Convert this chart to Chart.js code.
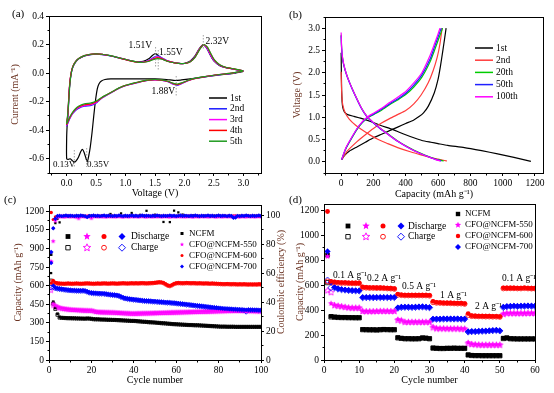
<!DOCTYPE html>
<html>
<head>
<meta charset="utf-8">
<script src="https://cdn.jsdelivr.net/npm/chart.js"></script>
<style>
html, body { margin: 0; padding: 0; background: #fff; }
#wrap { position: relative; width: 554px; height: 393px; overflow: hidden; }
#wrap canvas { position: absolute; left: 0; top: 0; }
</style>
</head>
<body>
<div id="wrap">
    <canvas id="cvChart" width="554" height="393"></canvas>
    <canvas id="gcdChart" width="554" height="393"></canvas>
    <canvas id="cycleChart" width="554" height="393"></canvas>
    <canvas id="rateChart" width="554" height="393"></canvas>
</div>
<script>
// ---------------- (a) CV curves, [voltage, current] ----------------
var cvCycle1 = [[3.0,0.012],[2.85,0.0],[2.7,-0.008],[2.5,-0.018],[2.3,-0.03],[2.1,-0.04],[1.95,-0.048],[1.85,-0.052],[1.7,-0.045],[1.5,-0.04],[1.3,-0.04],[1.1,-0.04],[0.9,-0.04],[0.75,-0.041],[0.65,-0.045],[0.59,-0.055],[0.55,-0.075],[0.52,-0.11],[0.49,-0.19],[0.46,-0.3],[0.43,-0.42],[0.4,-0.52],[0.37,-0.59],[0.35,-0.62],[0.33,-0.6],[0.3,-0.56],[0.27,-0.535],[0.24,-0.55],[0.2,-0.59],[0.16,-0.615],[0.13,-0.625],[0.1,-0.615],[0.06,-0.6],[0.03,-0.605],[0.0,-0.6],[0.0,-0.45],[0.01,-0.35],[0.025,-0.25],[0.04,-0.14],[0.06,-0.05],[0.08,0.01],[0.11,0.05],[0.15,0.08],[0.2,0.1],[0.3,0.12],[0.4,0.13],[0.5,0.135],[0.6,0.131],[0.7,0.125],[0.8,0.116],[0.9,0.106],[1.0,0.096],[1.1,0.086],[1.2,0.079],[1.3,0.082],[1.4,0.102],[1.46,0.125],[1.51,0.136],[1.56,0.122],[1.62,0.1],[1.7,0.085],[1.8,0.075],[1.9,0.068],[2.0,0.069],[2.1,0.085],[2.18,0.12],[2.25,0.17],[2.32,0.2],[2.38,0.175],[2.44,0.125],[2.5,0.085],[2.6,0.052],[2.7,0.038],[2.85,0.026],[3.0,0.014]];
var cvCycle2 = [[3.0,0.014],[2.85,0.002],[2.7,-0.006],[2.5,-0.016],[2.3,-0.028],[2.15,-0.04],[2.05,-0.055],[1.95,-0.075],[1.88,-0.086],[1.8,-0.076],[1.72,-0.06],[1.6,-0.05],[1.5,-0.047],[1.4,-0.05],[1.3,-0.057],[1.2,-0.067],[1.1,-0.077],[1.0,-0.088],[0.9,-0.105],[0.8,-0.127],[0.7,-0.15],[0.6,-0.175],[0.54,-0.195],[0.5,-0.21],[0.45,-0.222],[0.4,-0.228],[0.3,-0.232],[0.2,-0.247],[0.15,-0.262],[0.1,-0.285],[0.05,-0.322],[0.0,-0.37],[0.02,-0.31],[0.035,-0.2],[0.05,-0.09],[0.07,-0.02],[0.1,0.035],[0.14,0.07],[0.2,0.098],[0.3,0.121],[0.4,0.13],[0.5,0.133],[0.6,0.13],[0.7,0.124],[0.8,0.115],[0.9,0.105],[1.0,0.095],[1.1,0.085],[1.2,0.077],[1.3,0.078],[1.4,0.09],[1.48,0.11],[1.55,0.12],[1.62,0.106],[1.7,0.088],[1.8,0.076],[1.9,0.068],[2.0,0.067],[2.1,0.082],[2.18,0.115],[2.25,0.165],[2.32,0.195],[2.38,0.175],[2.44,0.128],[2.5,0.088],[2.6,0.054],[2.7,0.039],[2.85,0.027],[3.0,0.015]];
var cvCycle3 = [[3.0,0.014],[2.85,0.002],[2.7,-0.006],[2.5,-0.016],[2.3,-0.029],[2.15,-0.041],[2.05,-0.055],[1.95,-0.073],[1.88,-0.083],[1.8,-0.074],[1.72,-0.059],[1.6,-0.05],[1.5,-0.047],[1.4,-0.05],[1.3,-0.057],[1.2,-0.066],[1.1,-0.076],[1.0,-0.087],[0.9,-0.104],[0.8,-0.126],[0.7,-0.149],[0.6,-0.173],[0.54,-0.192],[0.5,-0.206],[0.45,-0.217],[0.4,-0.223],[0.3,-0.228],[0.2,-0.243],[0.15,-0.258],[0.1,-0.282],[0.05,-0.318],[0.0,-0.365],[0.02,-0.3],[0.035,-0.19],[0.05,-0.085],[0.07,-0.015],[0.1,0.038],[0.14,0.072],[0.2,0.1],[0.3,0.122],[0.4,0.131],[0.5,0.134],[0.6,0.131],[0.7,0.125],[0.8,0.116],[0.9,0.105],[1.0,0.095],[1.1,0.085],[1.2,0.077],[1.3,0.077],[1.4,0.088],[1.48,0.106],[1.55,0.115],[1.62,0.103],[1.7,0.087],[1.8,0.075],[1.9,0.068],[2.0,0.067],[2.1,0.081],[2.18,0.114],[2.25,0.166],[2.32,0.197],[2.38,0.178],[2.44,0.13],[2.5,0.089],[2.6,0.055],[2.7,0.039],[2.85,0.027],[3.0,0.015]];
var cvCycle4 = [[3.0,0.014],[2.85,0.003],[2.7,-0.005],[2.5,-0.015],[2.3,-0.028],[2.15,-0.04],[2.05,-0.054],[1.95,-0.071],[1.88,-0.08],[1.8,-0.072],[1.72,-0.058],[1.6,-0.049],[1.5,-0.046],[1.4,-0.049],[1.3,-0.056],[1.2,-0.065],[1.1,-0.075],[1.0,-0.086],[0.9,-0.103],[0.8,-0.125],[0.7,-0.148],[0.6,-0.171],[0.54,-0.189],[0.5,-0.201],[0.45,-0.211],[0.4,-0.217],[0.3,-0.222],[0.2,-0.238],[0.15,-0.254],[0.1,-0.278],[0.05,-0.314],[0.0,-0.36],[0.02,-0.29],[0.035,-0.18],[0.05,-0.08],[0.07,-0.012],[0.1,0.04],[0.14,0.073],[0.2,0.1],[0.3,0.122],[0.4,0.131],[0.5,0.134],[0.6,0.131],[0.7,0.125],[0.8,0.116],[0.9,0.105],[1.0,0.094],[1.1,0.084],[1.2,0.077],[1.3,0.076],[1.4,0.085],[1.48,0.1],[1.55,0.108],[1.62,0.1],[1.7,0.086],[1.8,0.075],[1.9,0.068],[2.0,0.067],[2.1,0.08],[2.18,0.112],[2.26,0.168],[2.33,0.199],[2.39,0.18],[2.45,0.132],[2.51,0.09],[2.6,0.057],[2.7,0.04],[2.85,0.028],[3.0,0.016]];
var cvCycle5 = [[3.0,0.015],[2.85,0.003],[2.7,-0.005],[2.5,-0.015],[2.3,-0.027],[2.15,-0.039],[2.05,-0.052],[1.95,-0.069],[1.88,-0.077],[1.8,-0.07],[1.72,-0.057],[1.6,-0.048],[1.5,-0.045],[1.4,-0.048],[1.3,-0.055],[1.2,-0.064],[1.1,-0.074],[1.0,-0.085],[0.9,-0.102],[0.8,-0.124],[0.7,-0.147],[0.6,-0.169],[0.54,-0.186],[0.5,-0.196],[0.45,-0.205],[0.4,-0.21],[0.3,-0.216],[0.2,-0.233],[0.15,-0.25],[0.1,-0.275],[0.05,-0.31],[0.0,-0.355],[0.02,-0.28],[0.04,-0.17],[0.055,-0.075],[0.075,-0.01],[0.1,0.038],[0.14,0.072],[0.2,0.1],[0.3,0.122],[0.4,0.132],[0.5,0.135],[0.6,0.132],[0.7,0.126],[0.8,0.117],[0.9,0.106],[1.0,0.095],[1.1,0.085],[1.2,0.077],[1.3,0.076],[1.4,0.083],[1.48,0.096],[1.55,0.102],[1.62,0.097],[1.7,0.085],[1.8,0.074],[1.9,0.068],[2.0,0.067],[2.1,0.079],[2.18,0.11],[2.26,0.166],[2.33,0.2],[2.39,0.182],[2.45,0.135],[2.51,0.092],[2.6,0.058],[2.7,0.041],[2.85,0.029],[3.0,0.016]];
var cvLabels = ['1st', '2nd', '3rd', '4th', '5th'];
var cvVoltTicks = [0, 0.5, 1, 1.5, 2, 2.5, 3];
var cvCurrentTicks = [-0.6, -0.4, -0.2, 0, 0.2, 0.4];

// ---------------- (b) galvanostatic profiles, [capacity, voltage] ----------------
var gcd1Dis = [[0,2.45],[1,2.1],[3,1.6],[6,1.35],[10,1.22],[20,1.12],[40,1.06],[80,1.02],[120,0.98],[186,0.9],[250,0.81],[300,0.75],[350,0.68],[391,0.62],[450,0.54],[500,0.48],[556,0.44],[600,0.41],[660,0.37],[763,0.32],[870,0.25],[969,0.18],[1070,0.1],[1175,0.01]];
var gcd1Cha = [[3,0.05],[20,0.14],[50,0.24],[100,0.34],[150,0.44],[200,0.54],[250,0.62],[300,0.7],[350,0.78],[400,0.86],[450,0.94],[480,1.01],[510,1.1],[540,1.25],[577,1.55],[600,1.85],[615,2.15],[630,2.5],[642,2.8],[650,3.0]];
var gcd2Dis = [[0,2.02],[2,1.7],[5,1.45],[10,1.28],[25,1.1],[50,0.96],[90,0.82],[124,0.73],[180,0.6],[230,0.5],[289,0.41],[350,0.32],[433,0.22],[500,0.15],[560,0.09],[600,0.06],[640,0.03],[655,0.02]];
var gcd2Cha = [[3,0.05],[40,0.25],[100,0.46],[150,0.61],[200,0.75],[250,0.87],[300,0.97],[350,1.06],[400,1.15],[450,1.3],[495,1.5],[540,1.78],[570,2.05],[595,2.35],[612,2.65],[625,3.0]];
var gcd20Dis = [[0,2.85],[3,2.55],[8,2.35],[15,2.2],[30,2.0],[50,1.8],[80,1.55],[124,1.22],[160,1.02],[200,0.88],[240,0.76],[289,0.63],[350,0.47],[400,0.36],[452,0.26],[500,0.18],[550,0.11],[598,0.05],[635,0.02]];
var gcd20Cha = [[3,0.05],[30,0.3],[70,0.56],[110,0.79],[160,0.98],[200,1.06],[250,1.16],[300,1.28],[350,1.39],[400,1.51],[450,1.68],[500,1.9],[550,2.24],[580,2.52],[608,2.8],[628,3.0]];
var gcd50Dis = [[0,2.83],[3,2.53],[8,2.33],[15,2.19],[30,1.99],[50,1.79],[80,1.54],[124,1.21],[160,1.01],[200,0.87],[240,0.75],[289,0.62],[350,0.46],[400,0.35],[452,0.25],[500,0.17],[550,0.1],[590,0.05],[620,0.02]];
var gcd50Cha = [[3,0.05],[30,0.31],[70,0.57],[110,0.8],[160,0.99],[200,1.07],[250,1.18],[300,1.3],[350,1.41],[400,1.54],[450,1.72],[500,1.95],[550,2.3],[578,2.58],[602,2.82],[620,3.0]];
var gcd100Dis = [[0,2.9],[3,2.57],[8,2.36],[15,2.21],[30,2.0],[50,1.8],[80,1.55],[124,1.22],[160,1.02],[200,0.88],[240,0.76],[289,0.62],[350,0.46],[400,0.35],[452,0.25],[500,0.17],[550,0.1],[585,0.05],[615,0.02]];
var gcd100Cha = [[3,0.05],[30,0.32],[70,0.58],[110,0.81],[160,1.0],[200,1.09],[250,1.2],[300,1.33],[350,1.45],[400,1.58],[450,1.77],[500,2.0],[545,2.34],[575,2.62],[598,2.85],[612,3.0]];
var gcdLabels = ['1st', '2nd', '20th', '50th', '100th'];
var gcdCapTicks = [0, 200, 400, 600, 800, 1000, 1200];
var gcdVoltTicks = [0, 0.5, 1, 1.5, 2, 2.5, 3];

// ---------------- (c) cycling performance, cycles 1..100 ----------------
var ncfmDis = [850,470,420,372,345,342,340,339,338,338, 337,337,336,336,335,335,334,336,335,333, 330,329,329,328,327,327,326,325,325,324, 324,323,322,321,320,319,318,317,316,316, 315,313,312,310,309,308,306,305,304,303, 301,300,298,297,296,294,293,291,290,289, 288,287,286,285,284,283,283,282,281,281, 280,279,278,277,276,275,274,273,272,271, 270,270,270,269,269,269,269,268,268,268, 268,268,268,268,268,268,268,268,268,268];
var ncfmCha = [640,455,412,365,342,340,339,338,337,337, 336,336,335,335,334,334,333,335,334,332, 329,328,328,327,326,326,325,324,324,323, 323,322,321,320,319,318,317,316,315,315, 314,312,311,309,308,307,305,304,303,302, 300,299,297,296,295,293,292,290,289,288, 287,286,285,284,283,282,282,281,280,280, 279,278,277,276,275,274,273,272,271,270, 269,269,269,268,268,268,268,267,267,267, 267,267,267,267,267,267,267,267,267,267];
var cfo550Dis = [790,455,440,430,422,418,415,412,410,408, 406,405,404,403,402,401,400,400,399,399, 395,390,388,387,386,386,385,385,384,384, 383,382,381,380,379,378,377,376,375,375, 375,376,376,377,377,378,378,379,379,380, 380,381,381,382,382,383,383,384,384,385, 385,386,386,387,387,388,388,389,389,390, 390,391,391,392,392,393,393,394,394,395, 395,396,396,397,397,397,398,398,398,398, 398,397,397,396,396,396,395,395,395,395];
var cfo550Cha = [560,440,432,424,418,414,411,409,407,405, 404,403,402,401,400,399,398,398,397,397, 393,388,386,385,384,384,383,383,382,382, 381,380,379,378,377,376,375,374,373,373, 373,374,374,375,375,376,376,377,377,378, 378,379,379,380,380,381,381,382,382,383, 383,384,384,385,385,386,386,387,387,388, 388,389,389,390,390,391,391,392,392,393, 393,394,394,395,395,395,396,396,396,396, 396,395,395,394,394,394,393,393,393,393];
var cfo600Dis = [1190,640,625,620,618,617,616,617,618,617, 616,617,618,617,616,617,618,619,618,617, 616,617,618,617,618,619,618,617,618,619, 618,617,618,619,620,619,618,619,620,619, 620,619,620,621,620,619,620,621,622,624, 626,628,627,622,612,602,598,605,615,620, 622,621,620,621,622,621,620,621,620,619, 620,619,618,619,618,617,618,617,616,615, 614,613,613,614,613,612,613,612,611,612, 611,612,611,610,611,610,611,610,612,611];
var cfo600Cha = [630,628,620,617,615,615,614,615,616,615, 614,615,616,615,614,615,616,617,616,615, 614,615,616,615,616,617,616,615,616,617, 616,615,616,617,618,617,616,617,618,617, 618,617,618,619,618,617,618,619,620,622, 624,626,625,620,610,600,596,603,613,618, 620,619,618,619,620,619,618,619,618,617, 618,617,616,617,616,615,616,615,614,613, 612,611,611,612,611,610,611,610,609,610, 609,610,609,608,609,608,609,608,610,609];
var cfo700Dis = [870,600,582,578,575,572,570,567,565,563, 562,561,560,560,559,560,558,552,545,542, 540,539,538,537,536,535,533,530,528,526, 524,522,518,510,503,498,495,492,490,488, 486,484,482,480,478,477,476,475,473,472, 470,469,468,466,465,464,463,461,460,458, 456,454,452,450,448,446,444,442,440,438, 436,434,432,430,428,426,424,422,420,418, 416,414,413,412,411,410,409,408,407,406, 405,405,404,404,403,403,402,402,401,401];
var cfo700Cha = [585,588,578,575,572,570,567,565,563,561, 560,559,558,558,557,558,556,550,543,540, 538,537,536,535,534,533,531,528,526,524, 522,520,516,508,501,496,493,490,488,486, 484,482,480,478,476,475,474,473,471,470, 468,467,466,464,463,462,461,459,458,456, 454,452,450,448,446,444,442,440,438,436, 434,432,430,428,426,424,422,420,418,416, 414,412,411,410,409,408,407,406,405,404, 403,400,390,402,401,401,400,400,399,399];
var ceNcfm = [60,91,94.5,97.5,95,99.2,99.5,99.3,99.6,99.4, 99.5,99.3,99.7,99.4,99.2,99.6,99.5,99.3,99.8,99.4, 99.5,99.3,99.6,99.4,99.7,99.5,99.3,99.6,100.8,99.5, 99.6,99.3,99.5,101.2,99.4,99.6,99.3,99.5,101.5,99.4, 99.6,99.5,100.2,99.4,99.7,103,99.5,99.3,99.8,100.3, 99.4,99.7,99.5,95.3,99.6,99.3,95.2,99.4,103.1,99.5, 101.9,99.4,100.4,99.7,99.3,99.6,99.5,99.8,99.4,99.6, 99.5,99.3,99.7,99.4,99.6,99.5,99.3,99.7,99.4,99.6, 99.5,99.3,99.6,99.4,99.7,99.5,99.3,99.6,99.4,99.5, 99.6,99.3,99.5,99.7,99.4,99.6,99.5,99.3,99.6,99.5];
var ce550 = [68,82,96,98.5,99,99.2,98.8,99.1,99.3,98.9, 99.2,99,98.6,97.8,99.1,99.3,98.9,99.2,99,97.9, 99.1,99.3,98.9,99.2,99,99.1,98.8,99.3,99,99.2, 98.9,99.1,99.3,99,98.8,99.2,99.1,98.9,99.3,99, 99.2,98.9,99.1,99.3,99,98.8,99.2,99.1,98.9,99.3, 99,99.2,98.9,99.1,99.3,99,98.8,99.2,99.1,98.9, 99.3,99,99.2,98.9,99.1,99.3,99,98.8,99.2,99.1, 98.9,99.3,99,99.2,98.9,99.1,99.3,99,98.8,99.2, 99.1,98.9,99.3,99,99.2,98.9,99.1,99.3,99,98.8, 99.2,99.1,98.9,99.3,99,99.2,98.9,99.1,99.3,99];
var ce600 = [53,97,98.8,99.2,99.4,99.1,99.3,99.5,99.2,99.4, 99.3,99.1,99.4,99.2,99.5,99.3,99.1,99.4,99.2,99.3, 99.5,99.2,99.4,99.1,99.3,99.5,99.2,99.4,99.3,99.1, 99.4,99.2,99.5,99.3,99.1,99.4,99.2,99.3,99.5,99.2, 99.4,99.1,99.3,99.5,99.2,99.4,99.3,99.1,99.4,99.2, 99.5,99.3,99.1,99.4,99.2,99.3,99.5,99.2,99.4,99.1, 99.3,99.5,99.2,99.4,99.3,99.1,99.4,99.2,99.5,99.3, 99.1,99.4,99.2,99.3,99.5,99.2,99.4,99.1,99.3,99.5, 99.2,99.4,99.3,99.1,99.4,99.2,99.5,99.3,99.1,99.4, 99.2,99.3,99.5,99.2,99.4,99.1,99.3,99.5,99.2,99.4];
var ce700 = [67,91,97.5,99.4,99.6,99.3,99.5,99.7,99.4,99.6, 99.5,99.3,99.6,99.4,99.7,99.5,99.3,98.6,99.4,99.5, 99.7,99.4,99.6,99.3,99.5,99.7,99.4,99.6,99.5,99.3, 99.6,99.4,99.7,99.5,99.3,99.6,99.4,99.5,99.7,99.4, 99.6,99.3,99.5,99.7,99.4,99.6,99.5,99.3,99.6,99.4, 99.7,99.5,99.3,99.6,99.4,99.5,99.7,99.4,99.6,99.3, 99.5,99.7,99.4,99.6,99.5,99.3,99.6,99.4,99.7,99.5, 99.3,99.6,99.4,99.5,99.7,99.4,99.6,99.3,99.5,99.7, 99.4,99.6,99.5,99.3,99.6,99.4,98.2,98.4,99.5,99.3, 99.6,99.4,99.7,99.5,99.3,99.6,99.4,99.5,99.7,99.4];
var cycleTicksC = [0, 20, 40, 60, 80, 100];
var capTicksC = [0, 150, 300, 450, 600, 750, 900, 1050, 1200];
var ceTicks = [0, 20, 40, 60, 80, 100];

// ---------------- (d) rate capability, cycles 1..60 ----------------
var ncfmDisD = [840,350,345,343,342,342,341,340,340,340, 245,244,243,243,242,244,246,245,244,244, 180,175,172,172,171,171,172,178,176,172, 97,95,94,94,95,95,96,95,95,95, 42,38,37,37,36,36,36,36,36,36, 175,178,172,171,170,170,170,170,170,170];
var ncfmChaD = [620,345,343,341,340,340,339,339,338,338, 243,242,241,241,240,242,244,243,242,242, 177,173,170,170,169,169,170,176,174,170, 95,93,92,92,93,93,94,93,93,93, 40,36,35,35,34,34,34,34,34,34, 172,176,170,169,168,168,168,168,168,168];
var cfo550DisD = [830,453,440,435,430,425,420,418,418,418, 392,390,390,390,391,392,392,392,391,392, 325,320,305,305,305,305,305,305,305,305, 265,255,253,253,252,252,252,252,250,250, 140,128,125,123,122,122,122,122,122,122, 370,375,375,375,375,375,375,376,376,376];
var cfo550ChaD = [555,540,436,431,427,422,418,416,416,416, 389,388,388,388,389,390,390,390,389,390, 318,312,302,302,302,302,302,302,302,302, 258,250,250,250,249,249,249,249,247,247, 130,124,122,120,119,119,119,119,119,119, 366,372,372,372,372,372,372,373,373,373];
var cfo600DisD = [1190,630,625,622,620,620,618,617,617,617, 585,582,580,580,579,579,578,576,575,572, 528,522,520,520,520,520,520,520,520,518, 470,462,460,458,458,457,456,455,455,452, 372,355,353,352,352,351,351,350,350,348, 578,577,577,577,576,576,578,576,575,575];
var cfo600ChaD = [630,620,620,618,617,617,615,614,614,614, 580,579,577,577,576,576,575,573,572,569, 522,519,517,517,517,517,517,517,517,515, 462,458,457,455,455,454,453,452,452,449, 360,351,350,349,349,348,348,347,347,345, 573,574,574,574,573,573,575,573,572,572];
var cfo700DisD = [870,622,582,572,567,563,560,558,557,556, 502,503,503,502,503,503,503,503,503,503, 420,425,425,425,424,425,427,428,425,422, 330,330,330,331,331,331,331,331,330,330, 228,230,230,232,233,234,236,238,240,236, 425,430,432,433,432,433,434,435,434,433];
var cfo700ChaD = [640,580,578,568,563,560,557,555,554,553, 499,500,500,499,500,500,500,500,500,500, 415,421,422,422,421,422,424,425,422,419, 326,327,327,328,328,328,328,328,327,327, 224,227,227,229,230,231,233,235,237,233, 420,427,429,430,429,430,431,432,431,430];
var rateLabels = ['0.1 A g\u207B\u00B9', '0.2 A g\u207B\u00B9', '0.5 A g\u207B\u00B9', '1 A g\u207B\u00B9', '2 A g\u207B\u00B9', '0.1 A g\u207B\u00B9'];
var cycleTicksD = [0, 10, 20, 30, 40, 50, 60];
var capTicksD = [0, 200, 400, 600, 800, 1000, 1200];
var sampleNames = ['NCFM', 'CFO@NCFM-550', 'CFO@NCFM-600', 'CFO@NCFM-700'];

// ---------------- common setup ----------------
var FONT = 'Liberation Serif';
var W = 554, H = 393;
var TITLE_COLOR = '#6b3322';
var BLACK = '#000000', BLUE = '#0000ff', MAGENTA = '#ff00ff', RED = '#ff0000';

Chart.defaults.font.family = FONT;
Chart.defaults.font.size = 10;
Chart.defaults.color = '#000';
Chart.defaults.animation = false;
Chart.defaults.responsive = false;
Chart.defaults.events = [];
Chart.defaults.plugins.legend.display = false;
Chart.defaults.plugins.tooltip.enabled = false;

// keep axis boxes at a fixed size so the plot areas land where the figure has them
function fixSize(size) {
    return function (s) {
        if (s.isHorizontal()) s.height = size; else s.width = size;
        s.paddingLeft = s.paddingRight = s.paddingTop = s.paddingBottom = 0;
    };
}
function useTicks(values) {
    return function (s) {
        s.ticks = values.map(function (v) { return {value: v}; });
    };
}
function linAxis(o) {
    return {
        type: 'linear',
        position: o.pos,
        min: o.min,
        max: o.max,
        minor: o.minor,
        afterBuildTicks: useTicks(o.ticks),
        afterFit: fixSize(o.size),
        ticks: {
            autoSkip: false, maxRotation: 0, padding: 2,
            font: {family: FONT, size: 9.5}, color: '#000',
            callback: function (v) { return o.dec ? v.toFixed(o.dec) : String(Math.round(v)); }
        },
        grid: {drawOnChartArea: false, drawTicks: true, tickLength: 3, color: '#000', lineWidth: 1},
        border: {display: true, color: '#000', width: 1},
        title: {
            display: !!o.title, text: o.title, color: o.titleColor || '#000',
            font: {family: FONT, size: 10}, padding: o.titlePad || 0
        }
    };
}
function padFor(box, yW, rW, xH) {
    return {left: box.left - yW, right: W - box.right - rW, top: box.top, bottom: H - box.bottom - xH};
}
function align(p) { return Math.round(p - 0.5) + 0.5; }

// frame around the plot area
var framePlugin = {
    id: 'frame',
    afterDraw: function (chart) {
        var a = chart.chartArea, ctx = chart.ctx;
        ctx.save();
        ctx.strokeStyle = '#000';
        ctx.lineWidth = 1;
        ctx.strokeRect(align(a.left), align(a.top), align(a.right) - align(a.left), align(a.bottom) - align(a.top));
        ctx.restore();
    }
};
// small minor ticks
var minorPlugin = {
    id: 'minorTicks',
    afterDraw: function (chart) {
        var ctx = chart.ctx;
        ctx.save();
        ctx.strokeStyle = '#000';
        ctx.lineWidth = 1;
        Object.keys(chart.scales).forEach(function (k) {
            var s = chart.scales[k], m = s.options.minor;
            if (!m) return;
            for (var i = Math.ceil(s.min / m - 1e-9); i * m <= s.max + 1e-9; i++) {
                var p = align(s.getPixelForValue(i * m));
                ctx.beginPath();
                if (s.isHorizontal()) { ctx.moveTo(p, align(s.top)); ctx.lineTo(p, align(s.top) + 2); }
                else if (s.position === 'left') { ctx.moveTo(align(s.right), p); ctx.lineTo(align(s.right) - 2, p); }
                else { ctx.moveTo(align(s.left), p); ctx.lineTo(align(s.left) + 2, p); }
                ctx.stroke();
            }
        });
        ctx.restore();
    }
};

function starPath(g, x, y, r) {
    g.beginPath();
    for (var k = 0; k < 10; k++) {
        var rr = k % 2 ? r * 0.45 : r;
        var ang = -Math.PI / 2 + k * Math.PI / 5;
        g.lineTo(x + rr * Math.cos(ang), y + rr * Math.sin(ang));
    }
    g.closePath();
}
function starImage(r, color, filled) {
    var c = document.createElement('canvas');
    c.width = c.height = Math.ceil(r * 2 + 2);
    var g = c.getContext('2d');
    starPath(g, c.width / 2, c.height / 2, r);
    if (filled) { g.fillStyle = color; g.fill(); } else { g.strokeStyle = color; g.lineWidth = 0.8; g.stroke(); }
    return c;
}
// legend markers
function marker(ctx, kind, x, y, r, color, filled) {
    ctx.save();
    ctx.fillStyle = color;
    ctx.strokeStyle = color;
    ctx.lineWidth = 0.9;
    ctx.beginPath();
    if (kind === 'rect') ctx.rect(x - r, y - r, 2 * r, 2 * r);
    else if (kind === 'circle') ctx.arc(x, y, r, 0, Math.PI * 2);
    else if (kind === 'rectRot') { ctx.moveTo(x, y - r * 1.35); ctx.lineTo(x + r * 1.35, y); ctx.lineTo(x, y + r * 1.35); ctx.lineTo(x - r * 1.35, y); ctx.closePath(); }
    else if (kind === 'star') starPath(ctx, x, y, r * 1.5);
    if (filled) ctx.fill(); else ctx.stroke();
    ctx.restore();
}
function text(ctx, str, x, y, size, alignH, color) {
    ctx.save();
    ctx.font = size + 'px "' + FONT + '"';
    ctx.fillStyle = color || '#000';
    ctx.textAlign = alignH || 'left';
    ctx.textBaseline = 'middle';
    ctx.fillText(str, x, y);
    ctx.restore();
}
function dashLine(ctx, x, y1, y2) {
    ctx.save();
    ctx.strokeStyle = '#8a8a8a';
    ctx.lineWidth = 0.8;
    ctx.setLineDash([1.5, 1.5]);
    ctx.beginPath();
    ctx.moveTo(x, y1);
    ctx.lineTo(x, y2);
    ctx.stroke();
    ctx.restore();
}
function lineLegend(ctx, labels, colors, x, y, dy) {
    labels.forEach(function (lab, i) {
        var yy = y + i * dy;
        ctx.save();
        ctx.strokeStyle = colors[i];
        ctx.lineWidth = 1.5;
        ctx.beginPath();
        ctx.moveTo(x, yy);
        ctx.lineTo(x + 18, yy);
        ctx.stroke();
        ctx.restore();
        text(ctx, lab, x + 21, yy, 9.5);
    });
}
function curve(points, color, width) {
    return {
        data: points.map(function (p) { return {x: p[0], y: p[1]}; }),
        showLine: true, pointRadius: 0, borderColor: color, borderWidth: width || 1.2,
        tension: 0.2, fill: false
    };
}
function dots(values, color, style, radius, filled, axisId) {
    return {
        data: values.map(function (v, i) { return {x: i + 1, y: v}; }),
        showLine: false,
        pointStyle: style, pointRadius: radius,
        pointBackgroundColor: filled ? color : 'rgba(0,0,0,0)',
        pointBorderColor: color, pointBorderWidth: filled ? 0 : 0.8,
        yAxisID: axisId || 'y'
    };
}

// ---------------- (a) ----------------
var boxA = {left: 49, right: 261, top: 16, bottom: 173};
var cvColors = [BLACK, '#1a1aff', MAGENTA, RED, '#1f9a1f'];
var cvChart = new Chart(document.getElementById('cvChart'), {
    type: 'scatter',
    data: {
        datasets: [
            curve(cvCycle5, cvColors[4]),
            curve(cvCycle4, cvColors[3]),
            curve(cvCycle3, cvColors[2]),
            curve(cvCycle2, cvColors[1]),
            curve(cvCycle1, cvColors[0])
        ]
    },
    options: {
        layout: {padding: padFor(boxA, 49, 0, 30)},
        scales: {
            x: linAxis({pos: 'bottom', min: -0.3, max: 3.3, ticks: cvVoltTicks, minor: 0.25, dec: 1, size: 30,
                title: 'Voltage (V)', titlePad: {top: 0, bottom: 4}}),
            y: linAxis({pos: 'left', min: -0.7, max: 0.4, ticks: cvCurrentTicks, minor: 0.1, dec: 1, size: 49,
                title: 'Current (mA\u207B\u00B9)', titleColor: TITLE_COLOR, titlePad: {top: 9, bottom: 0}})
        }
    },
    plugins: [framePlugin, minorPlugin, {
        id: 'cvNotes',
        afterDraw: function (chart) {
            var ctx = chart.ctx, xs = chart.scales.x;
            dashLine(ctx, xs.getPixelForValue(1.51), 47, 68);
            dashLine(ctx, xs.getPixelForValue(1.555), 50, 70);
            dashLine(ctx, xs.getPixelForValue(2.32), 35, 50);
            dashLine(ctx, xs.getPixelForValue(1.86), 76, 96);
            dashLine(ctx, xs.getPixelForValue(0.13), 150, 168);
            dashLine(ctx, xs.getPixelForValue(0.34), 148, 167);
            text(ctx, '1.51V', 152, 45.5, 9.5, 'right');
            text(ctx, '1.55V', 159, 52.5, 9.5);
            text(ctx, '2.32V', 205.5, 41, 9.5);
            text(ctx, '1.88V', 175, 91, 9.5, 'right');
            text(ctx, '0.13V', 53, 165, 9, 'left');
            text(ctx, '0.35V', 87, 165, 9, 'left');
            lineLegend(ctx, cvLabels, cvColors, 209, 98, 10.8);
            text(ctx, '(a)', 12, 14, 11);
        }
    }]
});

// ---------------- (b) ----------------
var boxB = {left: 325, right: 543, top: 17, bottom: 173};
var gcdColors = [BLACK, '#ff3b3b', '#00cc00', '#2020ff', '#ff00ff'];
var gcdChart = new Chart(document.getElementById('gcdChart'), {
    type: 'scatter',
    data: {
        datasets: [
            curve(gcd100Dis, gcdColors[4]), curve(gcd100Cha, gcdColors[4]),
            curve(gcd50Dis, gcdColors[3]), curve(gcd50Cha, gcdColors[3]),
            curve(gcd20Dis, gcdColors[2]), curve(gcd20Cha, gcdColors[2]),
            curve(gcd2Dis, gcdColors[1]), curve(gcd2Cha, gcdColors[1]),
            curve(gcd1Dis, gcdColors[0]), curve(gcd1Cha, gcdColors[0])
        ]
    },
    options: {
        layout: {padding: padFor(boxB, 40, 0, 30)},
        scales: {
            x: linAxis({pos: 'bottom', min: -100, max: 1250, ticks: gcdCapTicks, minor: 100, size: 30,
                title: 'Capacity (mAh g\u207B\u00B9)', titlePad: {top: 0, bottom: 3}}),
            y: linAxis({pos: 'left', min: -0.25, max: 3.25, ticks: gcdVoltTicks, minor: 0.25, dec: 1, size: 40,
                title: 'Voltage (V)', titleColor: TITLE_COLOR, titlePad: {top: 6, bottom: 0}})
        }
    },
    plugins: [framePlugin, minorPlugin, {
        id: 'gcdNotes',
        afterDraw: function (chart) {
            var ctx = chart.ctx;
            lineLegend(ctx, gcdLabels, gcdColors, 475, 48, 12.2);
            text(ctx, '(b)', 289, 15, 11);
        }
    }]
});

// ---------------- (c) ----------------
var boxC = {left: 49, right: 261, top: 205, bottom: 360};
var star550 = starImage(2.6, MAGENTA, true), star550o = starImage(2.6, MAGENTA, false);
var cycleChart = new Chart(document.getElementById('cycleChart'), {
    type: 'scatter',
    data: {
        datasets: [
            dots(ce700, BLUE, 'rectRot', 2.2, true, 'yR'),
            dots(ce550, MAGENTA, star550, 2.6, true, 'yR'),
            dots(ce600, RED, 'circle', 1.6, true, 'yR'),
            dots(ceNcfm, BLACK, 'rect', 1.6, true, 'yR'),
            dots(cfo600Dis, RED, 'circle', 1.8, true),
            dots(cfo700Dis, BLUE, 'rectRot', 2.4, true),
            dots(cfo550Dis, MAGENTA, star550, 2.6, true),
            dots(ncfmDis, BLACK, 'rect', 1.9, true),
            dots(cfo600Cha, RED, 'circle', 1.8, false),
            dots(cfo700Cha, BLUE, 'rectRot', 2.6, false),
            dots(cfo550Cha, MAGENTA, star550o, 2.6, false),
            dots(ncfmCha, BLACK, 'rect', 2.2, false)
        ]
    },
    options: {
        layout: {padding: padFor(boxC, 49, 22, 30)},
        scales: {
            x: linAxis({pos: 'bottom', min: 0, max: 100, ticks: cycleTicksC, minor: 10, size: 30,
                title: 'Cycle number', titlePad: {top: 0, bottom: 4}}),
            y: linAxis({pos: 'left', min: 0, max: 1250, ticks: capTicksC, minor: 75, size: 49,
                title: 'Capacity (mAh g\u207B\u00B9)', titleColor: TITLE_COLOR, titlePad: {top: 12, bottom: 0}}),
            yR: linAxis({pos: 'right', min: 0, max: 107, ticks: ceTicks, minor: 10, size: 22})
        }
    },
    plugins: [framePlugin, minorPlugin, {
        id: 'cycleNotes',
        afterDraw: function (chart) {
            var ctx = chart.ctx;
            // Discharge / Charge key
            marker(ctx, 'rect', 68, 236.5, 2.4, BLACK, true);
            marker(ctx, 'star', 87, 236.5, 2.6, MAGENTA, true);
            marker(ctx, 'circle', 104, 236.5, 2.5, RED, true);
            marker(ctx, 'rectRot', 122, 236.5, 2.6, BLUE, true);
            text(ctx, 'Discharge', 131, 236.5, 9.5);
            marker(ctx, 'rect', 68, 247.7, 2.2, BLACK, false);
            marker(ctx, 'star', 87, 247.7, 2.6, MAGENTA, false);
            marker(ctx, 'circle', 104, 247.7, 2.4, RED, false);
            marker(ctx, 'rectRot', 122, 247.7, 2.6, BLUE, false);
            text(ctx, 'Charge', 131, 247.7, 9.5);
            // sample key
            var kinds = ['rect', 'star', 'circle', 'rectRot'], cols = [BLACK, MAGENTA, RED, BLUE];
            sampleNames.forEach(function (n, i) {
                var yy = 233.5 + i * 11;
                marker(ctx, kinds[i], 182, yy, 1.5, cols[i], true);
                text(ctx, n, 189, yy, 9);
            });
            // right axis title, read bottom to top
            ctx.save();
            ctx.translate(281, 282);
            ctx.rotate(-Math.PI / 2);
            text(ctx, 'Coulombic efficiency (%)', 0, 0, 10, 'center', TITLE_COLOR);
            ctx.restore();
            text(ctx, '(c)', 4, 200, 11);
        }
    }]
});

// ---------------- (d) ----------------
var boxD = {left: 324, right: 535, top: 204, bottom: 360};
var star550d = starImage(3.2, MAGENTA, true), star550do = starImage(3.2, MAGENTA, false);
var rateChart = new Chart(document.getElementById('rateChart'), {
    type: 'scatter',
    data: {
        datasets: [
            dots(cfo600DisD, RED, 'circle', 2.4, true),
            dots(cfo700DisD, BLUE, 'rectRot', 3.1, true),
            dots(cfo550DisD, MAGENTA, star550d, 3.2, true),
            dots(ncfmDisD, BLACK, 'rect', 3.2, true),
            dots(cfo600ChaD, RED, 'circle', 2.4, false),
            dots(cfo700ChaD, BLUE, 'rectRot', 3.1, false),
            dots(cfo550ChaD, MAGENTA, star550do, 3.2, false),
            dots(ncfmChaD, BLACK, 'rect', 3.0, false)
        ]
    },
    options: {
        layout: {padding: padFor(boxD, 40, 0, 30)},
        scales: {
            x: linAxis({pos: 'bottom', min: 0, max: 60, ticks: cycleTicksD, minor: 5, size: 30,
                title: 'Cycle number', titlePad: {top: 0, bottom: 4}}),
            y: linAxis({pos: 'left', min: 0, max: 1250, ticks: capTicksD, minor: 100, size: 40,
                title: 'Capacity (mAh g\u207B\u00B9)', titleColor: TITLE_COLOR, titlePad: {top: 10, bottom: 0}})
        }
    },
    plugins: [framePlugin, minorPlugin, {
        id: 'rateNotes',
        afterDraw: function (chart) {
            var ctx = chart.ctx;
            marker(ctx, 'rect', 348, 226, 2.4, BLACK, true);
            marker(ctx, 'star', 366, 226, 2.6, MAGENTA, true);
            marker(ctx, 'circle', 383, 226, 2.5, RED, true);
            marker(ctx, 'rectRot', 401, 226, 2.6, BLUE, true);
            text(ctx, 'Discharge', 408, 226, 9.5);
            marker(ctx, 'rect', 348, 236.7, 2.2, BLACK, false);
            marker(ctx, 'star', 366, 236.7, 2.6, MAGENTA, false);
            marker(ctx, 'circle', 383, 236.7, 2.4, RED, false);
            marker(ctx, 'rectRot', 401, 236.7, 2.6, BLUE, false);
            text(ctx, 'Charge', 408, 236.7, 9.5);
            var kinds = ['rect', 'star', 'circle', 'rectRot'], cols = [BLACK, MAGENTA, RED, BLUE];
            sampleNames.forEach(function (n, i) {
                var yy = 214 + i * 11;
                marker(ctx, kinds[i], 458, yy, 2.2, cols[i], true);
                text(ctx, n, 465, yy, 9);
            });
            var lx = [333, 367, 402, 440, 475, 502], ly = [275, 278, 286, 295, 306, 278];
            rateLabels.forEach(function (lab, i) { text(ctx, lab, lx[i], ly[i], 9.5); });
            text(ctx, '(d)', 289, 200, 11);
        }
    }]
});
</script>
</body>
</html>
